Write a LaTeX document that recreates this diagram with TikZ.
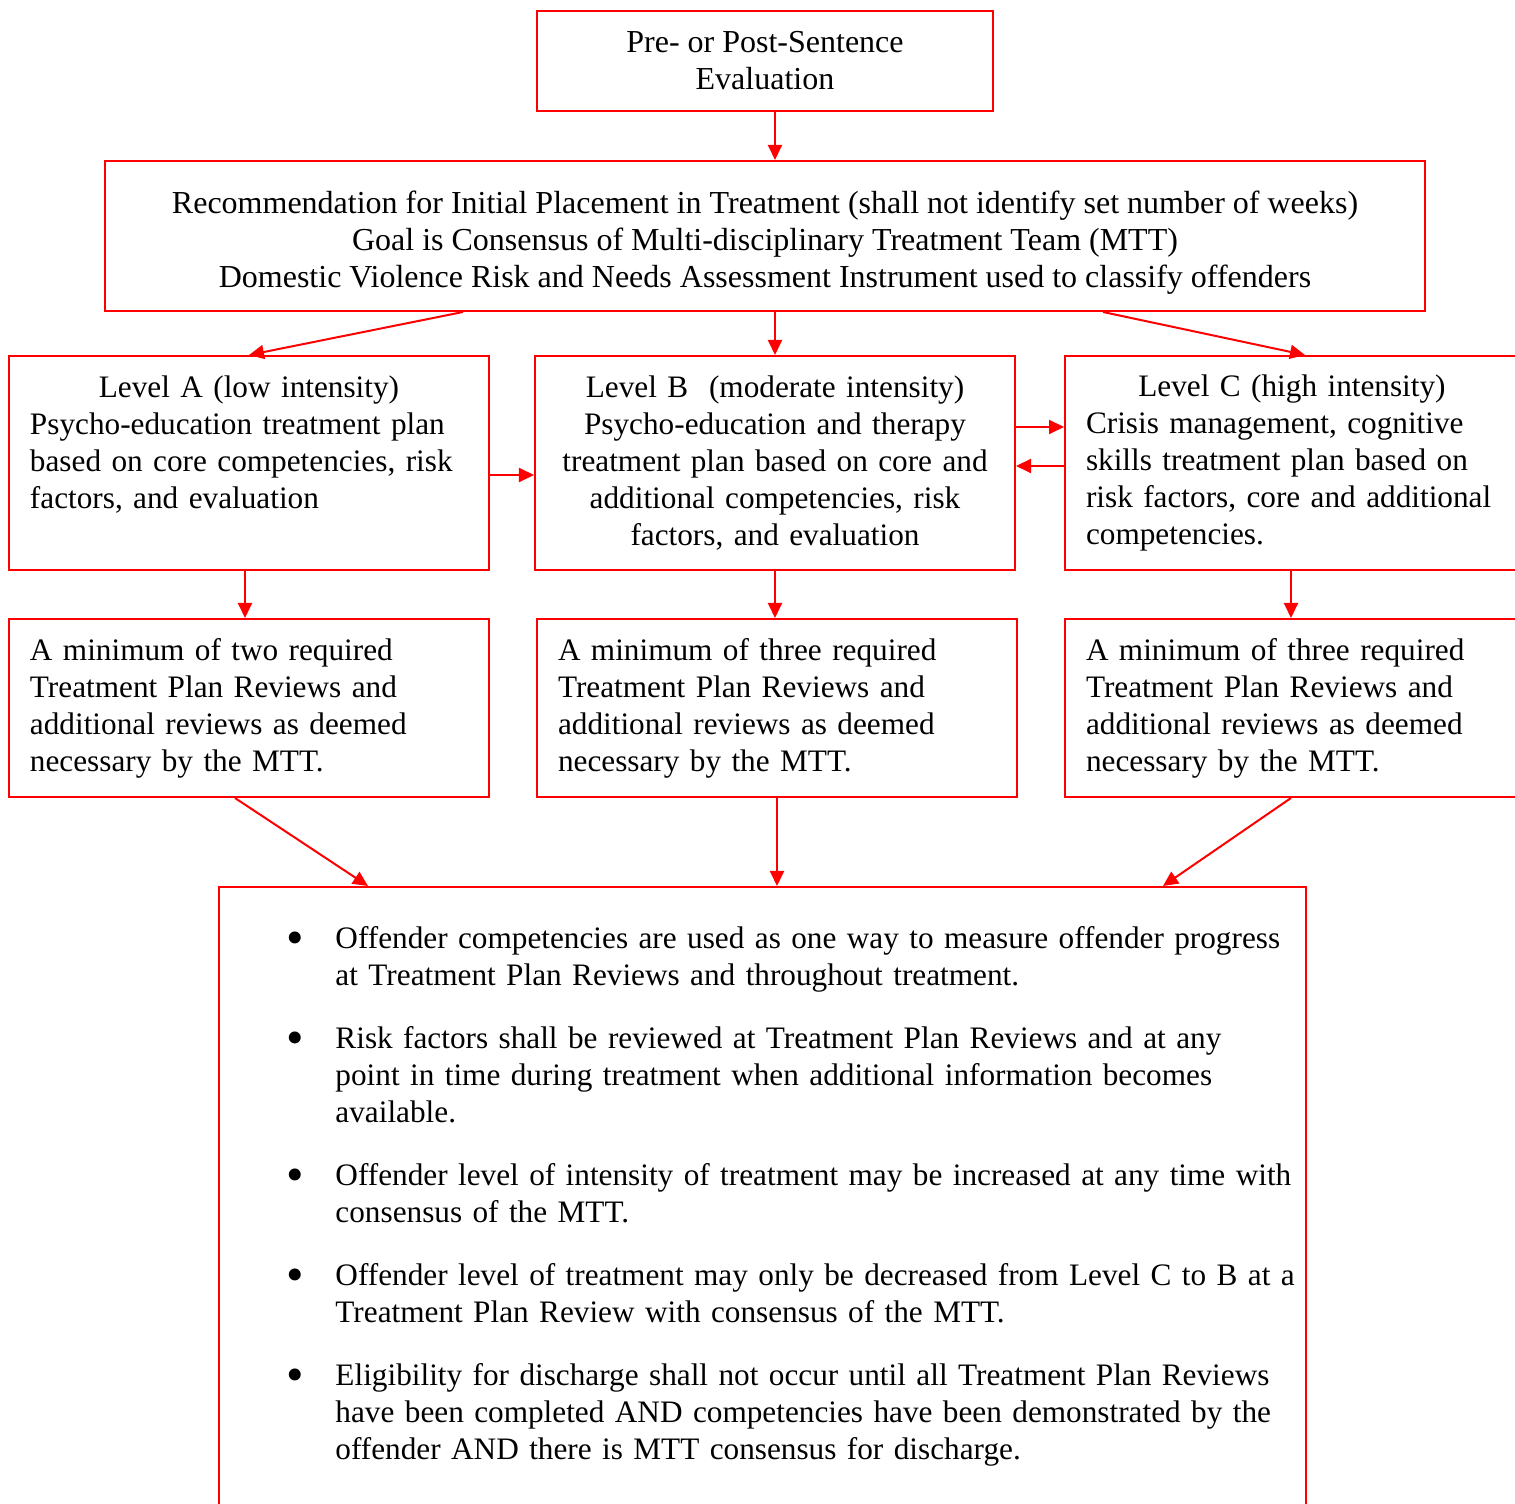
\documentclass[tikz,border=0pt]{standalone}
\usepackage{fontspec}
\setmainfont{Liberation Serif}
\usepackage{enumitem}
\usetikzlibrary{arrows.meta}

\begin{document}
\begin{tikzpicture}[x=0.4pt,y=-0.4pt,
  box/.style={draw=red,line width=0.8pt,inner sep=0pt,font=\fontsize{12.5}{14.8}\selectfont},
  head/.style={box,font=\fontsize{12.8}{14.8}\selectfont},
  lvl/.style={box,minimum width=192pt,minimum height=85.6pt,text width=175.2pt},
  rev/.style={box,minimum width=192pt,minimum height=71.2pt,text width=175.2pt,align=left},
  arr/.style={red,line width=0.8pt,-{Triangle[length=6pt,width=5.6pt]}}]
\useasboundingbox (0,0) rectangle (1515,1504);

% Evaluation and placement
\node[head,minimum width=182.4pt,minimum height=40pt,align=center] (eval) at (765,61)
  {Pre- or Post-Sentence\\Evaluation};
\node[head,minimum width=528pt,minimum height=60pt] (rec) at (765,236)
  {\raisebox{-2.8pt}[\height][\depth]{\begin{tabular}{@{}c@{}}
   Recommendation for Initial Placement in Treatment (shall not identify set number of weeks)\\
   Goal is Consensus of Multi-disciplinary Treatment Team (MTT)\\
   Domestic Violence Risk and Needs Assessment Instrument used to classify offenders
   \end{tabular}}};

% Treatment levels
\node[lvl,align=left] (lvlA) at (249,463)
  {\makebox[\linewidth][c]{Level A (low intensity)}\\
   Psycho-education treatment plan\\
   based on core competencies, risk\\
   factors, and evaluation\\ \vphantom{f,}};
\node[lvl,align=center] (lvlB) at (775,463)
  {Level B\ \ (moderate intensity)\\
   Psycho-education and therapy\\
   treatment plan based on core and\\
   additional competencies, risk\\
   factors, and evaluation};
\node[lvl,align=left] (lvlC) at (1305,463)
  {\makebox[\linewidth][c]{Level C (high intensity)\hspace{10.4pt}}\\
   Crisis management, cognitive\\
   skills treatment plan based on\\
   risk factors, core and additional\\
   competencies.};

% Treatment plan reviews
\node[rev] (revA) at (249,708)
  {A minimum of two required\\ Treatment Plan Reviews and\\ additional reviews as deemed\\ necessary by the MTT.};
\node[rev] (revB) at (777,708)
  {A minimum of three required\\ Treatment Plan Reviews and\\ additional reviews as deemed\\ necessary by the MTT.};
\node[rev] (revC) at (1305,708)
  {A minimum of three required\\ Treatment Plan Reviews and\\ additional reviews as deemed\\ necessary by the MTT.};

% Summary box
\node[box,minimum width=434.8pt,minimum height=257.2pt] (summ) at (762.5,1208.5) {};
\node[anchor=north west,inner sep=0pt,text width=420pt,font=\fontsize{12.5}{14.8}\selectfont] (pts)
  at ([xshift=30.8pt,yshift=-10pt]summ.north west) {%
  \begin{itemize}[leftmargin=16pt,labelwidth=0pt,labelsep=16pt,itemindent=0pt,
                  label={\makebox[0pt][c]{\raisebox{-2.6pt}{\fontsize{20}{20}\selectfont\textbullet}}},
                  topsep=0pt,partopsep=0pt,parsep=0pt,itemsep=10.4pt]
  \item Offender competencies are used as one way to measure offender progress\\
        at Treatment Plan Reviews and throughout treatment.
  \item Risk factors shall be reviewed at Treatment Plan Reviews and at any\\
        point in time during treatment when additional information becomes\\
        available.
  \item Offender level of intensity of treatment may be increased at any time with\\
        consensus of the MTT.
  \item Offender level of treatment may only be decreased from Level C to B at a\\
        Treatment Plan Review with consensus of the MTT.
  \item Eligibility for discharge shall not occur until all Treatment Plan Reviews\\
        have been completed AND competencies have been demonstrated by the\\
        offender AND there is MTT consensus for discharge.
  \end{itemize}};

% Arrows
\draw[arr] ([xshift=4pt]eval.south) -- ([xshift=4pt]eval.south |- rec.north);
\draw[arr] ([xshift=-120.8pt]rec.south) -- (lvlA.north);
\draw[arr] (rec.south -| lvlB.north) -- (lvlB.north);
\draw[arr] ([xshift=135.2pt]rec.south) -- (lvlC.north);
\draw[arr] ([yshift=-4.8pt]lvlA.east) -- ([yshift=-4.8pt]lvlB.west);
\draw[arr] ([yshift=14.4pt]lvlB.east) -- ([yshift=14.4pt]lvlC.west);
\draw[arr] ([yshift=-1.2pt]lvlC.west) -- ([yshift=-1.2pt]lvlB.east);
\draw[arr] ([xshift=-1.6pt]lvlA.south) -- ([xshift=-1.6pt]lvlA.south |- revA.north);
\draw[arr] (lvlB.south) -- (lvlB.south |- revB.north);
\draw[arr] ([xshift=-5.6pt]lvlC.south) -- ([xshift=-5.6pt]lvlC.south |- revC.north);
\draw[arr] ([xshift=-5.6pt]revA.south) -- ([xshift=-157.8pt]summ.north);
\draw[arr] (revB.south) -- (revB.south |- summ.north);
\draw[arr] ([xshift=-5.6pt]revC.south) -- ([xshift=160.2pt]summ.north);
\end{tikzpicture}
\end{document}
